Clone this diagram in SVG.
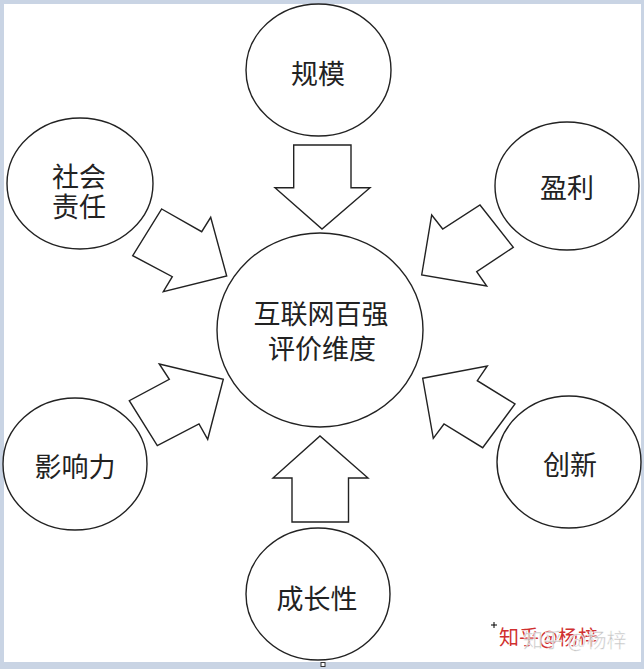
<svg xmlns="http://www.w3.org/2000/svg" width="644" height="669" viewBox="0 0 644 669">
<style>
.node ellipse{fill:#fff;stroke:#222;stroke-width:1.4}
.lbl{font-family:"Noto Sans CJK SC","Liberation Sans",sans-serif;font-size:27px;fill:#222;text-anchor:middle}
.arrow polygon{fill:#fff;stroke:#222;stroke-width:1.4;stroke-linejoin:miter}
.wm{font-family:"Noto Sans CJK SC",sans-serif;font-size:20px}
</style>
<rect x="0" y="0" width="644" height="669" fill="#c9d4e4"/>
<rect x="4" y="4" width="637" height="658" fill="#fff"/>
<g id="connectors" class="arrow">
<polygon id="a-scale" points="293.7,145 351,145 351,187.7 370,187.7 322,229 275,187.7 293.7,187.7"/>
<polygon id="a-social" points="161.7,209 201.7,231.7 210.7,217.3 226.7,276 163.3,291.7 172.3,276.7 132.7,255.7"/>
<polygon id="a-profit" points="480,205 513.3,247.3 476.7,271.7 486.7,286 421.7,275 431.7,215 442.7,229"/>
<polygon id="a-influence" points="159.3,364 223.3,379.3 207.7,439.3 199,424 157.3,445.7 129.3,400.7 169.3,379.3"/>
<polygon id="a-innovation" points="422.7,378.3 487.3,366 477.3,380.7 515,404 482.7,447.7 444,424 433.3,438.3"/>
<polygon id="a-growth" points="292,522 348.5,522 348.5,478 368,478 320,436 273,478 292,478"/>
</g>
<g id="center" class="node">
<ellipse cx="320" cy="330" rx="103" ry="97"/>
<text class="lbl" font-size="26"><tspan x="321" y="324">互联网百强</tspan><tspan x="322" y="359">评价维度</tspan></text>
</g>
<g id="scale" class="node">
<ellipse cx="318.5" cy="70" rx="72.5" ry="66"/>
<text class="lbl" x="318" y="84">规模</text>
</g>
<g id="social" class="node">
<ellipse cx="80" cy="183.5" rx="73" ry="65.5"/>
<text class="lbl"><tspan x="79" y="187">社会</tspan><tspan x="79" y="217">责任</tspan></text>
</g>
<g id="profit" class="node">
<ellipse cx="567" cy="186" rx="72" ry="64"/>
<text class="lbl" x="567" y="198">盈利</text>
</g>
<g id="influence" class="node">
<ellipse cx="75" cy="464" rx="72" ry="66"/>
<text class="lbl" x="75" y="477">影响力</text>
</g>
<g id="innovation" class="node">
<ellipse cx="569" cy="462" rx="72" ry="66"/>
<text class="lbl" x="570" y="475">创新</text>
</g>
<g id="growth" class="node">
<ellipse cx="318" cy="594" rx="72" ry="66"/>
<text class="lbl" x="317" y="609">成长性</text>
</g>
<rect x="321" y="662.5" width="4" height="4" fill="#fff" stroke="#333" stroke-width="1"/>
<path d="M494 622v6M491 625h6" stroke="#000" stroke-width="1"/>
<text class="wm" x="499" y="645" fill="#d03030">知乎@杨梓</text>
<text class="wm" x="523" y="648" fill="#b8b8b8" fill-opacity="0.85" stroke="#fff" stroke-width="0.5">知乎 @杨梓</text>
</svg>
